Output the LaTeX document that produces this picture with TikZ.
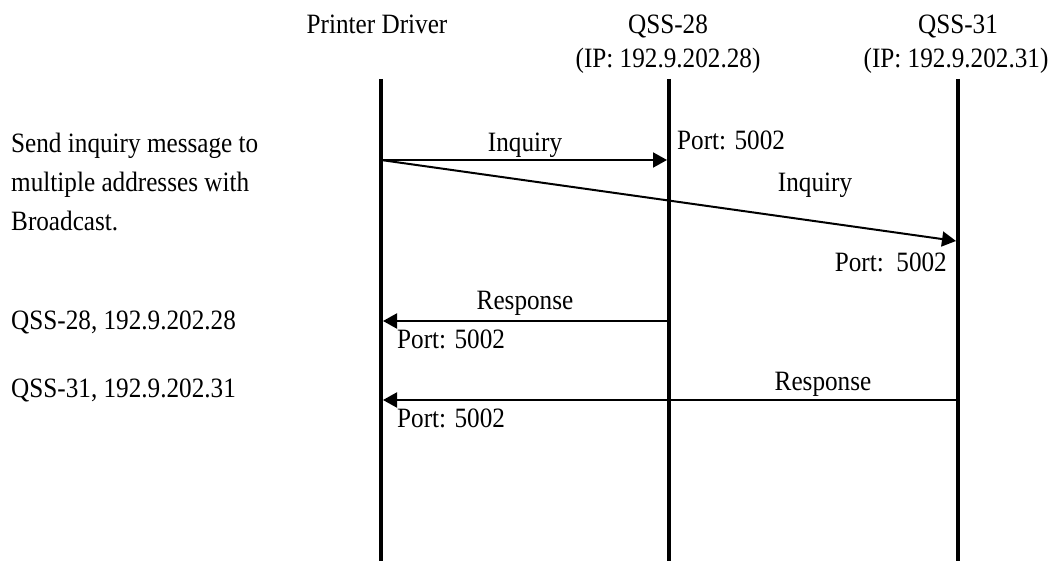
\documentclass[tikz,border=0pt]{standalone}
\usepackage{fontspec}
\setmainfont{Liberation Serif}[FakeStretch=0.9]
\usetikzlibrary{arrows.meta}
\begin{document}
\begin{tikzpicture}[x=1pt,y=-1pt,
  lifeline/.style={line width=4pt},
  msg/.style={line width=2pt,-{Triangle[length=14pt,width=15pt]}},
  lbl/.style={inner sep=0pt,font=\fontsize{28}{34}\selectfont}]
\useasboundingbox (0,0) rectangle (1054,561);
% headers
\node[lbl,anchor=base] (hpd) at (377,34) {Printer Driver};
\node[lbl,anchor=base] (h28) at (668,34) {QSS-28};
\node[lbl,anchor=base] (ip28) at (668,68) {(IP: 192.9.202.28)};
\node[lbl,anchor=base] (h31) at (958,34) {QSS-31};
\node[lbl,anchor=base] (ip31) at (956,68) {(IP: 192.9.202.31)};
% lifelines
\coordinate (pdT) at (381,79); \coordinate (pdB) at (381,561);
\coordinate (q28T) at (669,79); \coordinate (q28B) at (669,561);
\coordinate (q31T) at (958,79); \coordinate (q31B) at (958,561);
\draw[lifeline] (pdT) -- (pdB);
\draw[lifeline] (q28T) -- (q28B);
\draw[lifeline] (q31T) -- (q31B);
% message points
\coordinate (i1s) at (381,160); \coordinate (i1e) at (667,160);
\coordinate (i2e) at (956,241);
\coordinate (r1s) at (669,321); \coordinate (r1e) at (383,321);
\coordinate (r2s) at (958,400); \coordinate (r2e) at (383,400);
\draw[msg] (i1s) -- (i1e);
\draw[msg] (i1s) -- (i2e);
\draw[msg] (r1s) -- (r1e);
\draw[msg] (r2s) -- (r2e);
% message labels
\node[lbl,anchor=base] (li1) at (525,152) {Inquiry};
\node[lbl,anchor=base west] (lp1) at (677,150) {Port: 5002};
\node[lbl,anchor=base] (li2) at (815,192) {Inquiry};
\node[lbl,anchor=base east] (lp2) at (947,271) {Port:\ \ 5002};
\node[lbl,anchor=base] (lr1) at (525,309) {Response};
\node[lbl,anchor=base west] (lp3) at (397,348) {Port: 5002};
\node[lbl,anchor=base] (lr2) at (823,390) {Response};
\node[lbl,anchor=base west] (lp4) at (397,427) {Port: 5002};
% left notes
\node[lbl,anchor=base west] (n1) at (11,153) {Send inquiry message to};
\node[lbl,anchor=base west] (n2) at (11,192) {multiple addresses with};
\node[lbl,anchor=base west] (n3) at (11,231) {Broadcast.};
\node[lbl,anchor=base west] (n4) at (11,329) {QSS-28, 192.9.202.28};
\node[lbl,anchor=base west] (n5) at (11,397) {QSS-31, 192.9.202.31};
\end{tikzpicture}
\end{document}
